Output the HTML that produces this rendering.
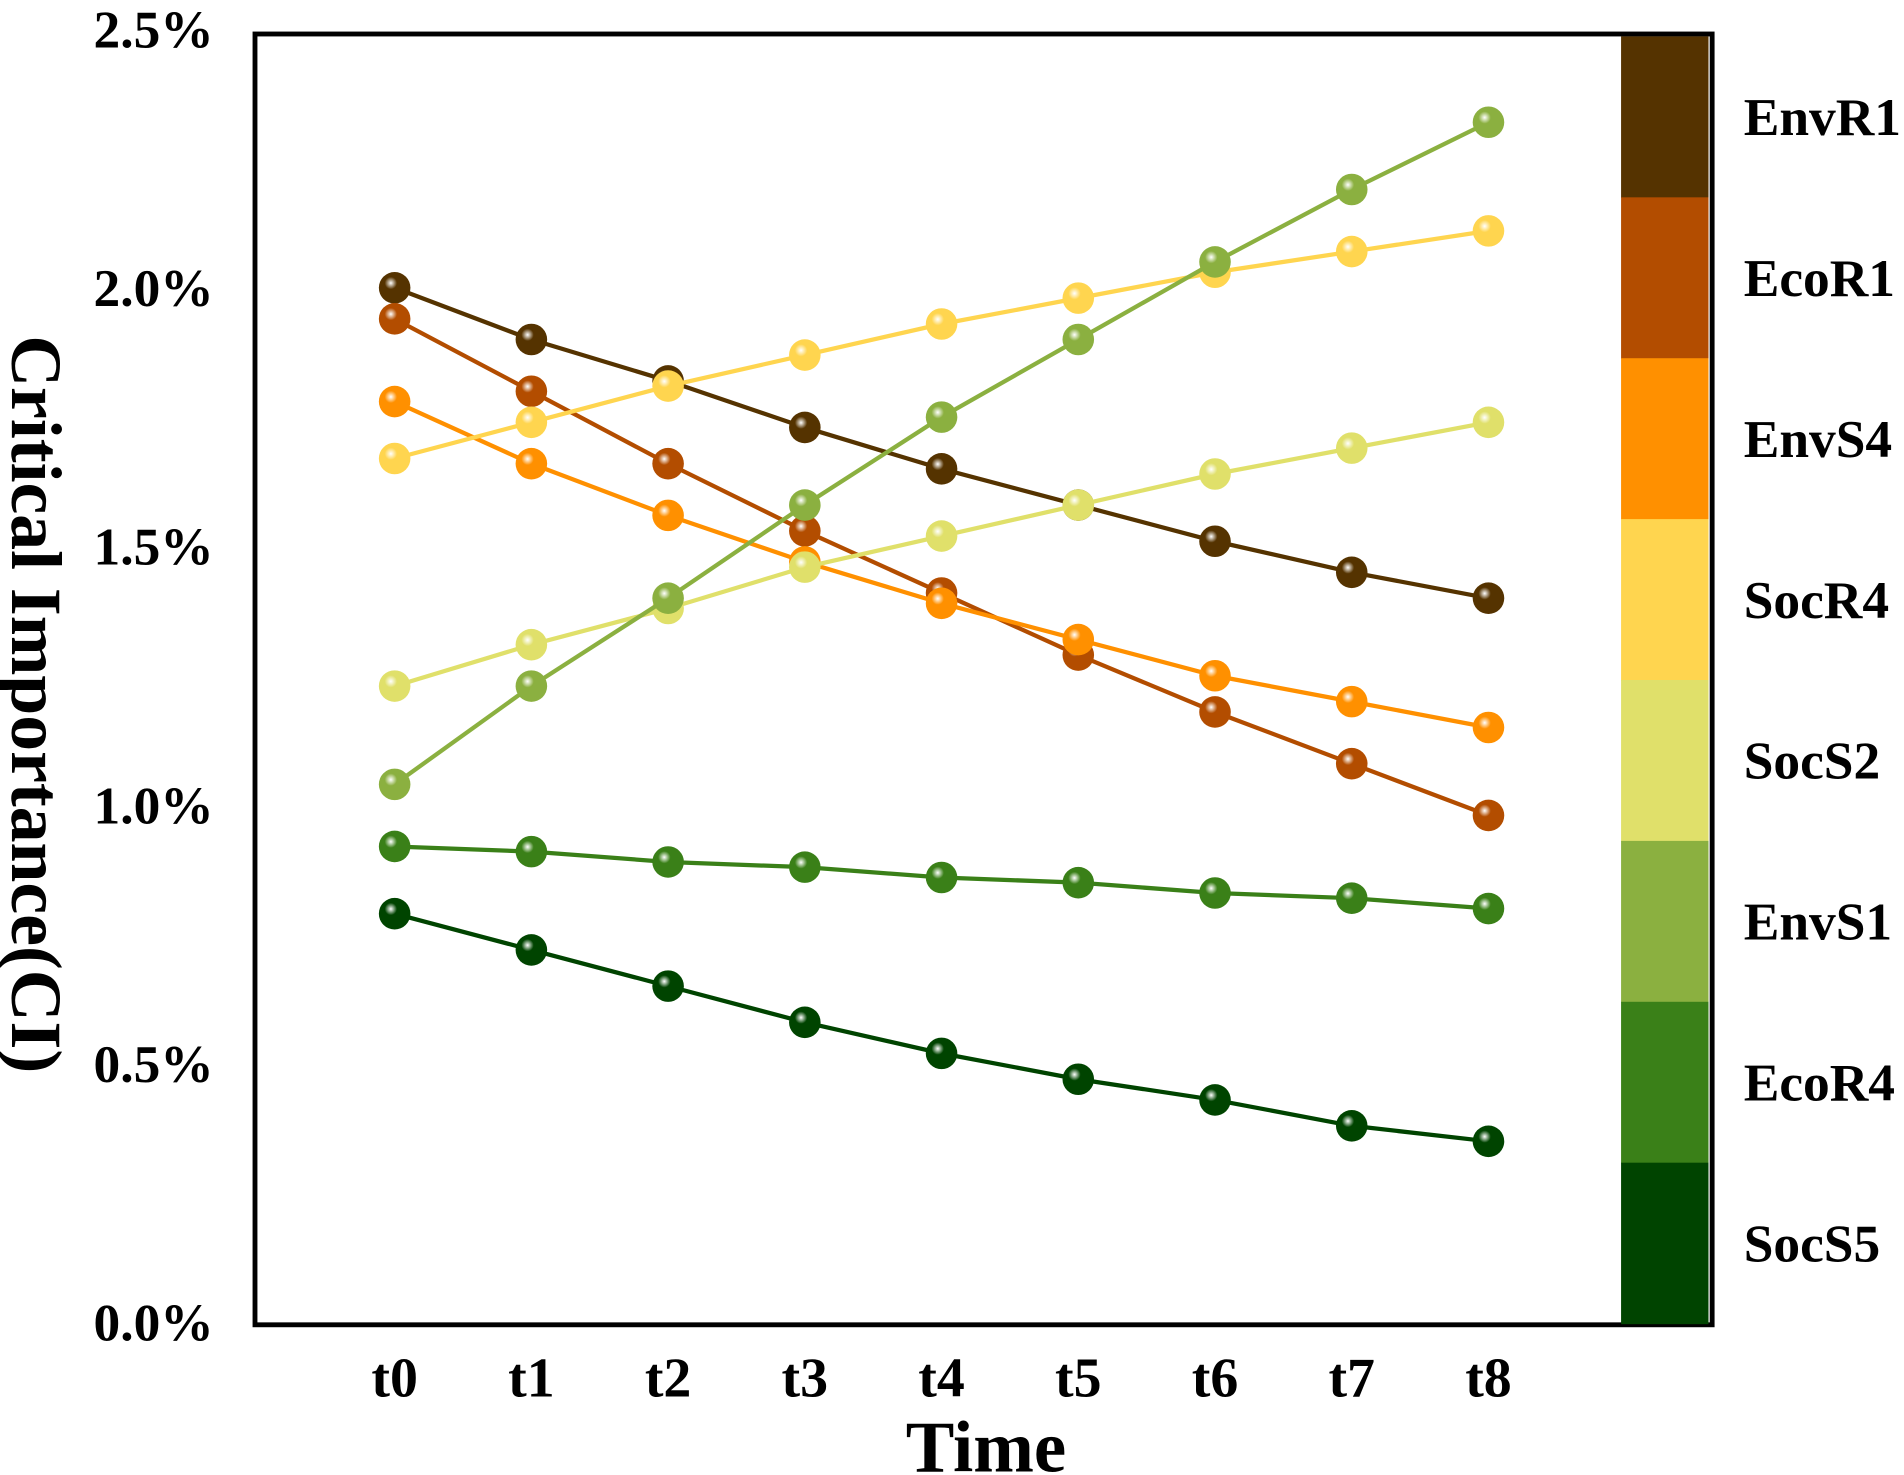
<!DOCTYPE html>
<html><head><meta charset="utf-8"><style>
html,body{margin:0;padding:0;background:#fff;}
svg{display:block;}
text{font-family:"Liberation Serif",serif;font-weight:bold;fill:#000;}
</style></head><body>
<svg id="chart" width="1904" height="1475" viewBox="0 0 1568 1214.7" preserveAspectRatio="none" xmlns="http://www.w3.org/2000/svg">
<defs id="defs"></defs>
<g id="plot"></g>
</svg>
<script>
const categories = ["t0","t1","t2","t3","t4","t5","t6","t7","t8"];
const seriesNames = ["EnvR1","EcoR1","EnvS4","SocR4","SocS2","EnvS1","EcoR4","SocS5"];
const seriesColors = ["#553300","#b34d00","#ff9000","#ffd54f","#e0e06a","#8bb040","#3a8018","#004400"];
const EnvR1 = [2.00,1.90,1.82,1.73,1.65,1.58,1.51,1.45,1.40];
const EcoR1 = [1.94,1.80,1.66,1.53,1.41,1.29,1.18,1.08,0.98];
const EnvS4 = [1.78,1.66,1.56,1.47,1.39,1.32,1.25,1.20,1.15];
const SocR4 = [1.67,1.74,1.81,1.87,1.93,1.98,2.03,2.07,2.11];
const SocS2 = [1.23,1.31,1.38,1.46,1.52,1.58,1.64,1.69,1.74];
const EnvS1 = [1.04,1.23,1.40,1.58,1.75,1.90,2.05,2.19,2.32];
const EcoR4 = [0.92,0.91,0.89,0.88,0.86,0.85,0.83,0.82,0.80];
const SocS5 = [0.79,0.72,0.65,0.58,0.52,0.47,0.43,0.38,0.35];
const yTicks = [0,0.5,1.0,1.5,2.0,2.5];
const yTickLabels = ["0.0%","0.5%","1.0%","1.5%","2.0%","2.5%"];

const seriesValues = [EnvR1,EcoR1,EnvS4,SocR4,SocS2,EnvS1,EcoR4,SocS5];
const NS="http://www.w3.org/2000/svg";
const g=document.getElementById('plot');
const defs=document.getElementById('defs');
const L=210,T=28,R=1410,B=1091,Y0=1089,PER=426;
const xs=i=>325+i*112.6;
const ys=v=>Y0-v*PER;
function el(tag,attrs,parent){const e=document.createElementNS(NS,tag);for(const k in attrs)e.setAttribute(k,attrs[k]);(parent||g).appendChild(e);return e;}

const frame=el('rect',{x:L,y:T,width:R-L,height:B-T,fill:'none',stroke:'#000','stroke-width':4});



yTicks.forEach((v,i)=>{
  const tx=el('text',{x:176,y:ys(v)+15,'text-anchor':'end','font-size':44});
  tx.textContent=yTickLabels[i];
  
  
});
categories.forEach((c,i)=>{
  const tx=el('text',{x:xs(i),y:1150,'text-anchor':'middle','font-size':46});
  tx.textContent=c;
  
  
});
const xt=el('text',{x:812,y:1212,'text-anchor':'middle','font-size':60});
xt.textContent='Time';


const yt=el('text',{x:0,y:0,'text-anchor':'middle','font-size':59,transform:'translate(10,580) rotate(90)'});
yt.textContent='Critical Importance(CI)';



seriesValues.forEach((vals,si)=>{
  const col=seriesColors[si];
  const gr=el('radialGradient',{id:'g'+si,cx:'0.38',cy:'0.35',r:'0.65'},defs);
  el('stop',{offset:'0','stop-color':'#ffffff'},gr);
  el('stop',{offset:'0.3','stop-color':col},gr);
  el('stop',{offset:'1','stop-color':col},gr);
  const sg=el('g',{});
  
  
  const pts=vals.map((v,i)=>xs(i)+','+ys(v)).join(' ');
  const pl=el('polyline',{points:pts,fill:'none',stroke:col,'stroke-width':3.5},sg);
  
  
  vals.forEach((v,i)=>{
    const c=el('circle',{cx:xs(i),cy:ys(v),r:13,fill:'url(#g'+si+')'},sg);
    
    
  });
});

const segH=(1090-30)/seriesNames.length;
seriesNames.forEach((n,i)=>{
  const r=el('rect',{x:1335,y:30+i*segH,width:72,height:segH+0.5,fill:seriesColors[i]});
  
  
  const t=el('text',{x:1436,y:30+(i+0.5)*segH+15,'font-size':44});
  t.textContent=n;
  
  
});
</script>
</body></html>
